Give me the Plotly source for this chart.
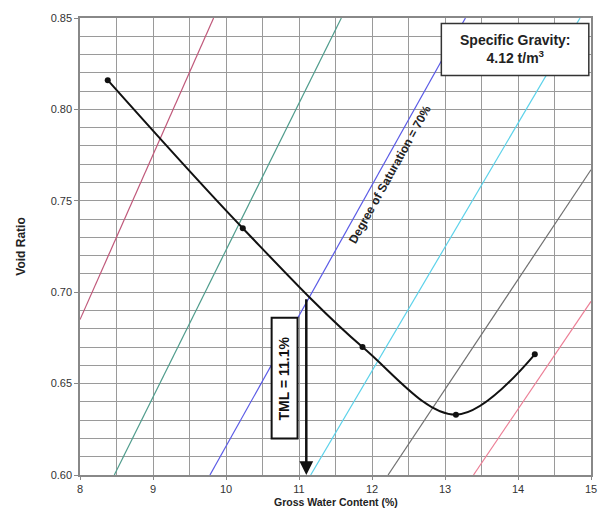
import plotly.graph_objects as go

# Test data: gross water content (%) vs void ratio
water_content = [8.38, 10.23, 11.87, 13.15, 14.23]
void_ratio = [0.816, 0.735, 0.670, 0.633, 0.666]

# Degree-of-saturation reference lines (start / end points)
sat_w_start = [8.00, 8.47, 9.78, 11.16, 12.22, 13.39]
sat_e_start = [0.685, 0.60, 0.60, 0.60, 0.60, 0.60]
sat_w_end = [9.83, 11.58, 13.28, 14.85, 15.00, 15.00]
sat_e_end = [0.85, 0.85, 0.85, 0.85, 0.767, 0.695]
sat_colors = ["#c0587a", "#4f9c8c", "#5a5ae6", "#5cd2ea", "#707070", "#ec7f96"]

tml_value = 11.1
tml_void = 0.697

x_ticks = [8, 9, 10, 11, 12, 13, 14, 15]
y_ticks = [0.60, 0.65, 0.70, 0.75, 0.80, 0.85]

fig = go.Figure()

for ws, es, we, ee, c in zip(sat_w_start, sat_e_start, sat_w_end, sat_e_end, sat_colors):
    fig.add_trace(go.Scatter(x=[ws, we], y=[es, ee], mode="lines",
                             line=dict(color=c, width=1.2), showlegend=False,
                             hoverinfo="skip"))

fig.add_trace(go.Scatter(x=water_content, y=void_ratio, mode="lines+markers",
                         line=dict(color="#111111", width=2, shape="spline", smoothing=1),
                         marker=dict(color="#111111", size=6), showlegend=False))

grid_c = "#9a9a9a"
font_fam = "Liberation Sans, Arial"
fig.update_xaxes(range=[8, 15], tickvals=x_ticks, ticktext=[str(v) for v in x_ticks],
                 showgrid=True, gridcolor=grid_c, gridwidth=1,
                 minor=dict(dtick=0.5, tick0=8, showgrid=True, gridcolor=grid_c, gridwidth=1),
                 showline=True, linecolor="#888888", linewidth=1.5, mirror=True,
                 ticks="outside", ticklen=3, tickcolor="#888888", ticklabelstandoff=0,
                 tickfont=dict(family=font_fam, size=11, color="#333333"),
                 zeroline=False)
fig.update_yaxes(range=[0.60, 0.85], tickvals=y_ticks, ticktext=[f"{v:.2f}" for v in y_ticks],
                 showgrid=True, gridcolor=grid_c, gridwidth=1,
                 minor=dict(dtick=0.01, tick0=0.60, showgrid=True, gridcolor=grid_c, gridwidth=1),
                 showline=True, linecolor="#888888", linewidth=1.5, mirror=True,
                 ticks="outside", ticklen=4, tickcolor="#888888",
                 tickfont=dict(family=font_fam, size=11, color="#333333"),
                 zeroline=False)

shapes = [
    # Specific gravity box
    dict(type="rect", xref="x", yref="y", x0=12.95, x1=14.97, y0=0.8185, y1=0.847,
         line=dict(color="#333333", width=1.5), fillcolor="white", layer="above"),
    # TML box
    dict(type="rect", xref="x", yref="y", x0=10.625, x1=10.98, y0=0.620, y1=0.686,
         line=dict(color="#111111", width=2), fillcolor="white", layer="above"),
]

annotations = [
    dict(x=13.96, y=0.8328, xref="x", yref="y",
         text="<b>Specific Gravity:</b><br><b>4.12 t/m<sup>3</sup></b>",
         showarrow=False, font=dict(family=font_fam, size=14, color="#222222"),
         align="center"),
    dict(x=10.80, y=0.653, xref="x", yref="y", text="<b>TML = 11.1%</b>", textangle=-90,
         showarrow=False, font=dict(family=font_fam, size=14, color="#111111")),
    dict(x=tml_value, y=0.60, ax=tml_value, ay=tml_void, xref="x", yref="y",
         axref="x", ayref="y", text="", showarrow=True, arrowhead=2, arrowsize=1.1,
         arrowwidth=2.5, arrowcolor="#111111"),
    dict(x=12.25, y=0.7645, xref="x", yref="y", text="<b>Degree of Saturation = 70%</b>",
         textangle=-61, showarrow=False,
         font=dict(family=font_fam, size=12, color="#222222")),
    dict(x=0.5, y=-0.0739, xref="paper", yref="paper", text="<b>Gross Water Content (%)</b>",
         showarrow=False, font=dict(family=font_fam, size=10.5, color="#222222"),
         yanchor="bottom", borderpad=0),
    dict(x=-0.117, y=0.5, xref="paper", yref="paper", text="<b>Void Ratio</b>", textangle=-90,
         showarrow=False, font=dict(family=font_fam, size=12, color="#222222"),
         xanchor="center"),
]

fig.update_layout(width=609, height=510, margin=dict(l=80, r=17, t=15, b=35),
                  plot_bgcolor="white", paper_bgcolor="white",
                  shapes=shapes, annotations=annotations, showlegend=False)

fig.write_html("out.html")
